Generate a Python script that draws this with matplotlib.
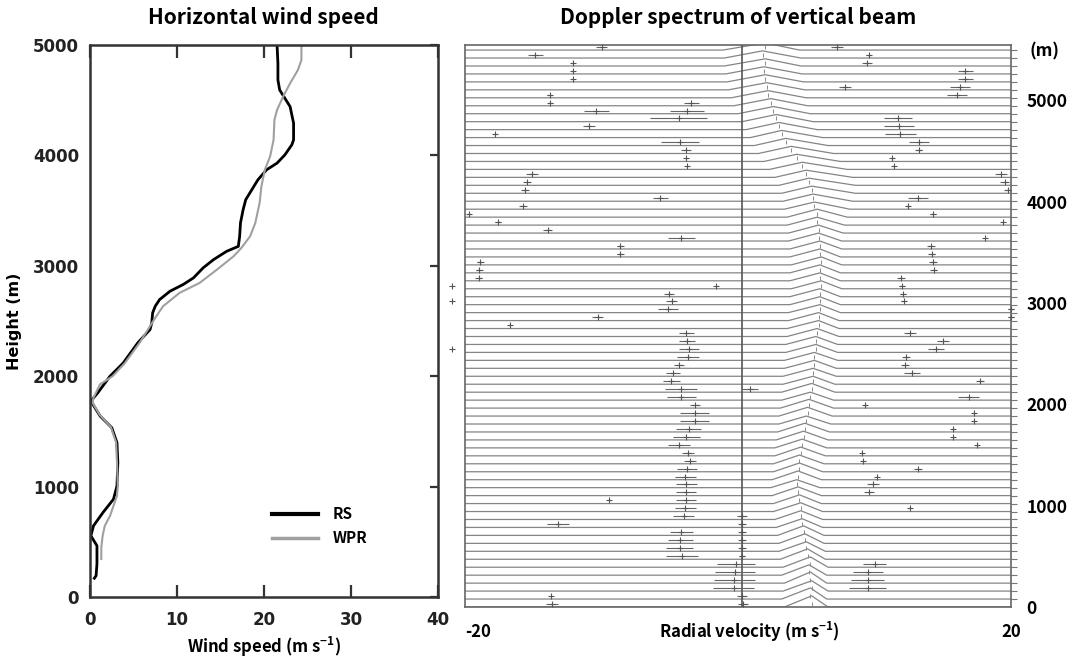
import matplotlib
matplotlib.use('Agg')
import matplotlib.pyplot as plt
import matplotlib.transforms as mtransforms

plt.rcParams['mathtext.default'] = 'regular'

# ---------------- Left panel data (wind speed profiles) ----------------
rs_speed = [21.5, 21.6, 21.6, 21.8, 23.0, 23.4, 23.4, 23.2, 22.4, 21.5, 20.3, 19.3, 18.6,
            17.9, 17.6, 17.3, 17.2, 17.05, 15.7, 14.2, 13.0, 11.9, 10.7, 9.2, 8.0, 7.5,
            7.2, 7.1, 6.9, 5.5, 3.8, 2.3, 0.9, 0.1, 1.15, 2.5, 3.1, 3.2, 3.1, 2.7, 1.5,
            0.4, 0.1, 0.8, 0.8, 0.7, 0.5]
rs_height = [5000, 4835, 4684, 4593, 4442, 4292, 4141, 4096, 4005, 3930, 3870, 3779, 3689,
             3599, 3508, 3390, 3267, 3176, 3131, 3056, 2981, 2891, 2830, 2770, 2694, 2634,
             2574, 2484, 2423, 2303, 2118, 2000, 1850, 1775, 1640, 1534, 1398, 1218, 1006,
             886, 766, 645, 554, 464, 300, 193, 170]
wpr_speed = [24.3, 24.3, 23.9, 23.0, 22.2, 21.5, 21.2, 21.1, 20.7, 20.1, 19.7, 19.5, 19.0,
             18.4, 17.4, 16.5, 14.6, 12.6, 10.3, 8.4, 7.5, 6.9, 5.7, 4.0, 2.6, 1.15, 0.4,
             0.3, 1.1, 2.4, 3.0, 3.1, 3.2, 3.1, 2.3, 1.7, 1.45, 1.3, 1.3]
wpr_height = [5000, 4864, 4774, 4653, 4533, 4412, 4322, 4141, 3990, 3870, 3719, 3571, 3388,
              3267, 3162, 3086, 2966, 2845, 2755, 2634, 2529, 2453, 2303, 2118, 2000, 1926,
              1805, 1760, 1650, 1540, 1400, 1218, 1006, 916, 735, 645, 554, 450, 344]

# ---------------- Right panel data (Doppler spectra, 71 range gates) ----------------
gate_step_m = 78.5
gate_index = list(range(71))
peak_vel = [5.4, 5.3, 5.4, 5.3, 5.2, 5.3, 5.1, 5.0, 4.9,
            4.8, 4.7, 4.6, 4.6, 4.5, 4.4, 4.3, 4.4, 4.5,
            4.5, 4.6, 4.7, 4.8, 4.9, 5.0, 5.1, 5.2, 5.3, 5.4, 5.5, 5.5, 5.6, 5.6, 5.7, 5.7, 5.8,
            5.9, 5.9, 6.0, 6.0, 6.0, 6.1, 6.0, 6.0, 6.1, 6.0, 6.0, 5.9, 5.9, 5.8, 5.8, 5.6, 5.5, 5.4,
            5.2, 5.0, 4.7, 4.3, 3.9, 3.5, 3.2, 3.0,
            2.8, 2.6, 2.4, 2.2, 2.1, 2.0, 1.9, 2.0, 1.8, 2.0]
left_foot = [3.4, 3.2, 3.3, 3.4, 3.2, 3.3, 3.1, 3.0, 3.0,
             2.9, 2.8, 2.7, 2.6, 2.6, 2.5, 2.4, 2.5, 2.6,
             2.6, 2.7, 2.7, 2.8, 2.9, 3.0, 3.0, 3.1, 3.2, 3.2, 3.3, 3.3, 3.4, 3.4, 3.5, 3.5, 3.6,
             3.6, 3.7, 3.7, 3.8, 3.8, 3.9, 3.8, 3.8, 3.9, 3.8, 3.8, 3.7, 3.7, 3.6, 3.6, 3.4, 3.3, 3.2,
             3.0, 2.7, 2.3, 1.9, 1.5, 1.2, 0.9, 0.6,
             0.3, 0.0, -0.3, -0.5, -0.7, -0.8, -0.9, -1.0, -1.0, -1.1]
right_foot = [6.6, 6.5, 6.6, 6.5, 6.5, 6.6, 6.4, 6.4, 6.3,
              6.3, 6.2, 6.2, 6.2, 6.1, 6.1, 6.0, 6.1, 6.2,
              6.3, 6.4, 6.5, 6.6, 6.7, 6.8, 6.9, 7.0, 7.0, 7.1, 7.1, 7.2, 7.2, 7.3, 7.3, 7.3, 7.4,
              7.4, 7.4, 7.5, 7.5, 7.5, 7.6, 7.5, 7.5, 7.6, 7.5, 7.6, 7.6, 7.7, 7.8, 8.0, 8.2, 8.4, 8.6,
              8.6, 8.4, 8.0, 7.5, 7.0, 6.6, 6.2, 5.8,
              5.5, 5.3, 5.1, 5.0, 4.9, 4.8, 4.7, 4.6, 4.6, 4.5]
peak_amp = [1.4, 1.4, 1.3, 1.4, 1.3, 1.3, 1.3, 1.2, 1.2,
            1.2, 1.1, 1.1, 1.1, 1.1, 1.1, 1.0, 1.1, 1.1,
            1.1, 1.1, 1.1, 1.1, 1.1, 1.0, 1.1, 1.1, 1.0, 1.1, 1.0, 1.0, 1.0, 1.0, 1.0, 1.0, 1.0,
            1.0, 1.0, 1.0, 1.0, 1.0, 1.0, 1.0, 1.0, 1.0, 1.0, 1.0, 1.0, 1.0, 1.0, 1.0, 0.9, 0.9, 0.9,
            0.9, 0.9, 0.9, 0.9, 0.9, 0.9, 0.9, 0.9,
            0.9, 0.9, 0.9, 0.9, 0.9, 0.9, 0.9, 0.9, 0.9, 0.9]

# secondary detected peaks: gate, velocity, half width
mark_gate = [70, 69, 68, 67, 66, 64, 63, 63, 62, 62, 61, 60, 59, 58, 57, 56, 55, 54, 53, 52,
             51, 50, 49, 48, 47, 46, 45, 44, 43, 42, 41, 40, 39, 38, 37, 36, 35, 34, 33, 32,
             31, 30, 29, 28, 27, 27, 26, 25, 24, 23, 22, 21, 20, 19, 18, 17, 16, 15, 14, 13,
             13, 12, 11, 11, 10, 10, 9, 9, 8, 8, 7, 7, 6, 6, 5, 4, 3, 2, 1, 1, 0, 0,
             70, 69, 68, 67, 66, 65, 65, 64, 61, 60, 59, 58, 57, 56, 55, 54, 53, 52, 51, 50,
             49, 48, 46, 45, 44, 43, 42, 41, 40, 39, 38, 37, 36, 34, 33, 32, 31, 30, 29, 28,
             26, 25, 24, 23, 22, 21, 20, 19, 18, 17, 16, 15, 14, 12, 5, 4, 3, 2,
             40, 38, 32]
mark_vel = [-10.0, -14.85, -12.1, -12.1, -12.1, -13.8, -13.75, -3.42, -10.38, -3.74, -4.35,
            -10.94, -17.78, -4.23, -3.79, -3.79, -3.74, -15.09, -15.46, -15.63, -5.69, -15.78,
            -19.74, -17.58, -13.95, -4.15, -8.62, -8.62, -18.88, -18.95, -19.0, -1.59, -5.08,
            -4.84, -5.13, -10.26, -16.73, -3.79, -3.74, -3.62, -3.69, -4.35, -4.76, -4.89,
            -4.15, 0.85, -4.15, -3.18, -3.18, -3.18, -3.62, -3.79, -4.35, -3.66, -3.54, -3.74,
            -3.86, -3.79, -3.79, -3.79, -9.48, -3.86, -3.98, 0.29, -13.21, 0.29, -4.15, 0.29,
            -4.23, 0.29, -4.28, 0.29, -4.1, 0.29, -0.12, -0.2, -0.27, -0.32, -13.7, 0.29,
            -13.63, 0.37,
            7.25, 9.57, 9.45, 16.65, 16.65, 7.86, 16.24, 16.04, 11.72, 11.82, 11.89, 13.28,
            13.23, 11.3, 11.4, 19.27, 19.53, 19.75, 13.16, 12.43, 14.29, 19.38, 18.09, 14.14,
            14.19, 14.26, 14.33, 11.94, 12.01, 12.09, 12.13, 20.0, 20.0, 12.62, 15.02, 14.5,
            12.31, 12.26, 12.75, 17.75, 16.9, 9.33, 17.31, 17.31, 15.75, 15.75, 17.53, 9.08,
            9.13, 13.19, 10.18, 9.86, 9.62, 12.62, 10.01, 9.5, 9.5, 9.5,
            -20.95, -20.95, -20.95]
mark_hw = [0.37, 0.54, 0.1, 0.1, 0.1, 0.2, 0.2, 0.54, 0.93, 1.22, 2.08, 0.44, 0.15, 1.39, 0.37,
           0.15, 0.15, 0.44, 0.3, 0.3, 0.54, 0.3, 0.15, 0.25, 0.3, 0.98, 0.25, 0.25, 0.25, 0.25,
           0.25, 0.1, 0.37, 0.4, 0.73, 0.4, 0.1, 0.54, 0.61, 0.73, 0.8, 0.37, 0.54, 0.61, 1.17,
           0.61, 1.05, 0.37, 1.05, 1.05, 0.93, 0.98, 0.8, 0.44, 0.44, 0.73, 0.78, 0.78, 0.73,
           0.73, 0.1, 0.78, 0.78, 0.37, 0.8, 0.3, 0.85, 0.3, 0.93, 0.3, 0.98, 0.3, 1.15, 0.25,
           1.39, 1.47, 1.5, 1.5, 0.1, 0.37, 0.44, 0.37,
           0.44, 0.2, 0.37, 0.54, 0.54, 0.44, 0.73, 0.73, 1.05, 1.1, 1.15, 0.73, 0.25, 0.1, 0.1,
           0.44, 0.3, 0.25, 0.73, 0.1, 0.2, 0.0, 0.0, 0.3, 0.25, 0.3, 0.25, 0.3, 0.2, 0.2, 0.2,
           0.2, 0.2, 0.44, 0.44, 0.61, 0.3, 0.3, 0.61, 0.3, 0.78, 0.1, 0.1, 0.1, 0.1, 0.1, 0.1,
           0.1, 0.1, 0.3, 0.0, 0.44, 0.37, 0.1, 0.85, 1.1, 1.22, 1.34,
           0.0, 0.0, 0.0]

height_ticks = [0, 1000, 2000, 3000, 4000, 5000]
speed_ticks = [0, 10, 20, 30, 40]

# ---------------- Figure ----------------
W, H = 1067, 661
fig = plt.figure(figsize=(W / 100, H / 100), dpi=100)
title_font = ['Noto Sans CJK KR', 'DejaVu Sans']
fig.text(263 / W, 1 - 18 / H, 'Horizontal wind speed', ha='center', va='center',
         fontsize=15, fontweight='bold', family=title_font)
fig.text(738 / W, 1 - 18 / H, 'Doppler spectrum of vertical beam', ha='center', va='center',
         fontsize=15, fontweight='bold', family=title_font)

# ---- left panel ----
ax1 = fig.add_axes([90 / W, (H - 597) / H, 348 / W, 552 / H])
ax1.plot(rs_speed, rs_height, color='black', lw=2.0, label='RS', solid_joinstyle='round')
ax1.plot(wpr_speed, wpr_height, color='#a0a0a0', lw=1.5, label='WPR')
ax1.set_xlim(0, 40)
ax1.set_ylim(0, 5000)
ax1.set_xticks(speed_ticks)
ax1.set_yticks(height_ticks)
for s in ax1.spines.values():
    s.set_linewidth(1.8)
    s.set_color('#333333')
ax1.tick_params(axis='x', direction='in', top=True, bottom=True, length=9, width=1.6,
                color='#333333', pad=10)
ax1.tick_params(axis='y', direction='in', left=False, right=True, length=6, width=1.6,
                color='#333333', pad=8)
for lab in ax1.get_xticklabels() + ax1.get_yticklabels():
    lab.set_fontsize(12)
    lab.set_fontweight('bold')
    lab.set_color('#222222')
ax1.set_xlabel('Wind speed (m s$^{-1}$)', fontsize=12, fontweight='bold',
               family=title_font, labelpad=4)
ax1.set_ylabel('Height (m)', fontsize=11.5, fontweight='bold')
ax1.yaxis.set_label_coords(-0.195, 0.5)
leg = ax1.legend(loc='upper left', bbox_to_anchor=(0.523, 0.165), frameon=False,
                 handlelength=3.0, handletextpad=1.0, labelspacing=0.55,
                 borderpad=0, borderaxespad=0,
                 prop={'family': title_font, 'weight': 'bold', 'size': 11})
leg.get_lines()[0].set_linewidth(3.0)
leg.get_lines()[1].set_linewidth(2.5)

# ---- right panel ----
ax2 = fig.add_axes([465 / W, (H - 607) / H, 546 / W, 562 / H])
z_top = 5545
ax2.set_xlim(-20, 20)
ax2.set_ylim(0, z_top)
for k, vl, vp, vr, a in zip(gate_index, left_foot, peak_vel, right_foot, peak_amp):
    z0 = k * gate_step_m
    ax2.plot([-20, vl, vp, vr, 20],
             [z0, z0, z0 + a * gate_step_m, z0, z0],
             color='#858585', lw=0.9, zorder=2)
    ax2.plot([vp], [z0 + 0.4 * gate_step_m], marker='|', ms=3.0, mew=0.7,
             color='#8a8a8a', zorder=3)
ax2.axvline(0.3, color='#555555', lw=1.2, zorder=4)
mz = [g * gate_step_m + 0.4 * gate_step_m for g in mark_gate]
ax2.errorbar(mark_vel, mz, xerr=mark_hw, fmt='+', ms=4.5, mew=0.8, color='#555555',
             ecolor='#666666', elinewidth=0.8, capsize=0, zorder=5, clip_on=False)
for s in ax2.spines.values():
    s.set_linewidth(1.2)
    s.set_color('#666666')
ax2.set_xticks([])
ax2.yaxis.tick_right()
ax2.set_yticks(height_ticks)
ax2.set_yticks([k * gate_step_m for k in gate_index], minor=True)
ax2.tick_params(axis='y', which='major', length=0, pad=11)
ax2.tick_params(axis='y', which='minor', direction='out', length=4, width=0.8, color='#777777')
for lab in ax2.get_yticklabels():
    lab.set_fontsize(12.5)
    lab.set_fontweight('bold')
    lab.set_family(title_font)
tr = mtransforms.blended_transform_factory(ax2.transAxes, ax2.transData)
ax2.text(1.033, 5486, '(m)', transform=tr, ha='left', va='center', fontsize=12.5,
         fontweight='bold', family=title_font)
trx = mtransforms.blended_transform_factory(ax2.transData, ax2.transAxes)
ax2.text(-20, -0.045, '-20', transform=trx, ha='left', va='center', fontsize=12,
         fontweight='bold', family=title_font)
ax2.text(20, -0.045, '20', transform=trx, ha='center', va='center', fontsize=12,
         fontweight='bold', family=title_font)
ax2.text(0.8, -0.045, 'Radial velocity (m s$^{-1}$)', transform=trx, ha='center', va='center',
         fontsize=12, fontweight='bold', family=title_font)

fig.savefig('out.png', dpi=100)
